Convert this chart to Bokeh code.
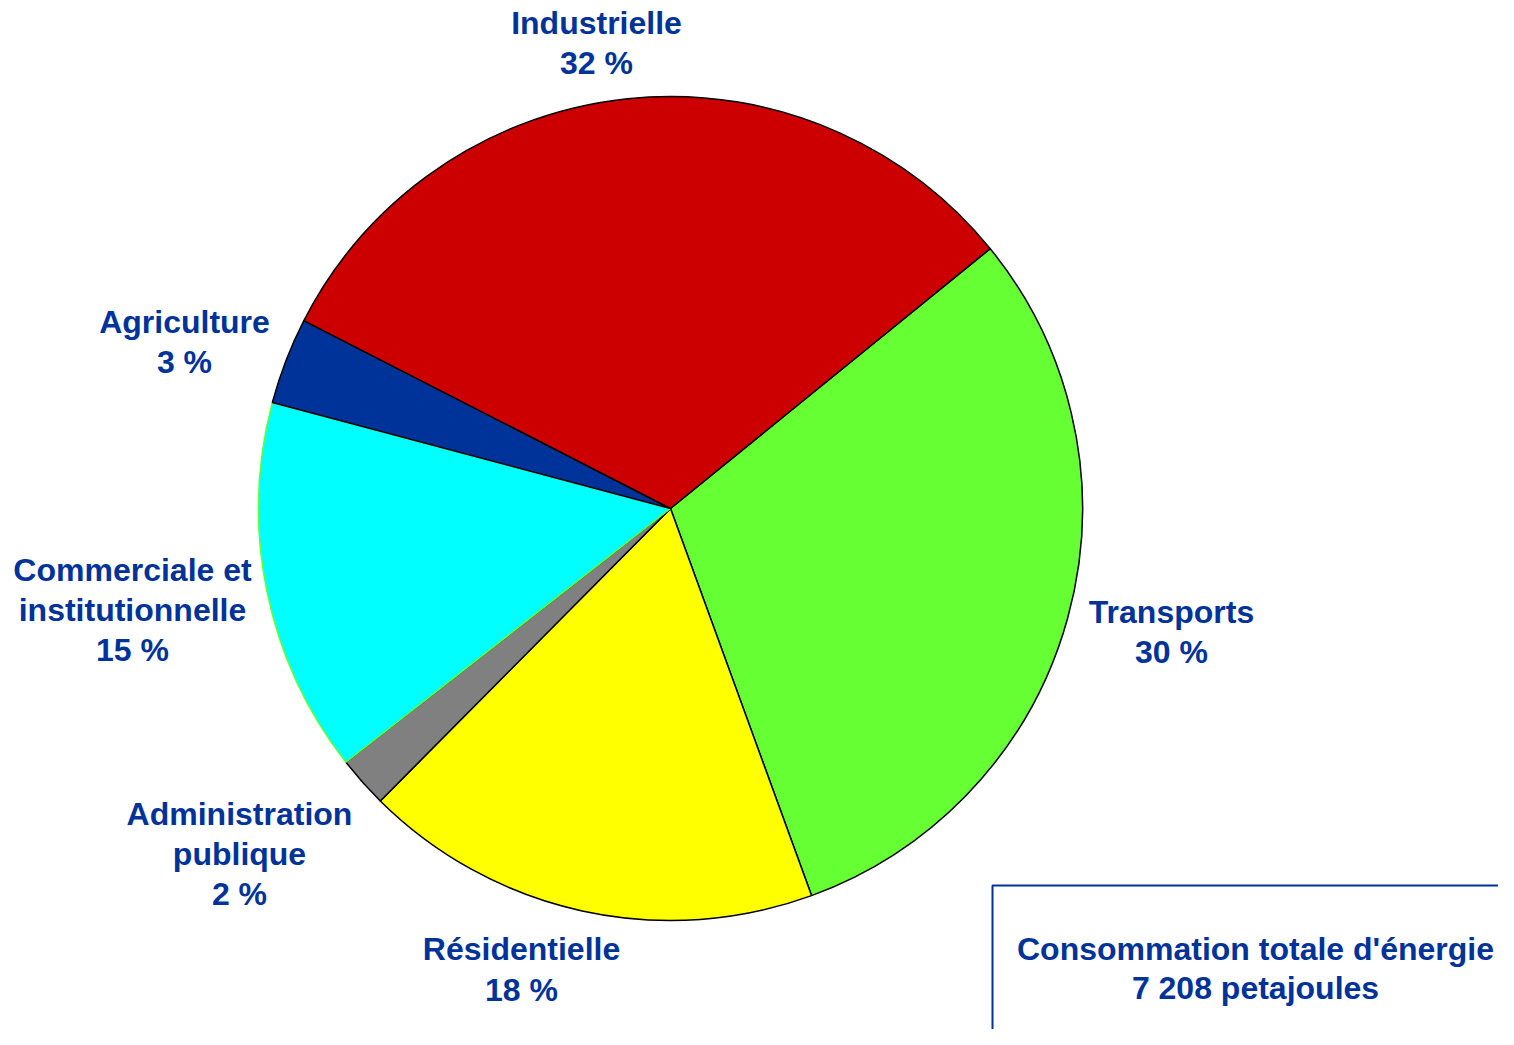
import math
from bokeh.plotting import figure
from bokeh.models import Range1d, ColumnDataSource
from bokeh.core.properties import value
from bokeh.embed import file_html
from bokeh.resources import INLINE

# Data (clockwise from the Transports slice)
sectors = ["Transports", "Résidentielle", "Administration publique",
           "Commerciale et institutionnelle", "Agriculture", "Industrielle"]
shares = [30.3, 18.0, 2.0, 14.7, 3.4, 31.6]
pct_labels = ["30 %", "18 %", "2 %", "15 %", "3 %", "32 %"]
colors = ["#66FF33", "#FFFF00", "#808080", "#00FFFF", "#003399", "#CC0000"]
outline = ["black", "black", "black", "#66FF33", "black", "black"]
total_title = "Consommation totale d'énergie"
total_value = "7 208 petajoules"

TEXT = "#003399"
FONT = "Liberation Sans"

W, H = 1498, 1029
p = figure(width=W, height=H, output_backend="svg", toolbar_location=None,
           x_range=Range1d(0, W), y_range=Range1d(-H, 0),
           min_border=0, outline_line_color=None)
p.axis.visible = False
p.grid.visible = False

cx, cy, r = 670, -508, 412
start0 = math.radians(39.1)
tot = sum(shares)
starts, ends = [], []
a = start0
for s in shares:
    span = 2 * math.pi * s / tot
    ends.append(a)
    starts.append(a - span)
    a -= span

src = ColumnDataSource(dict(start=starts, end=ends, color=colors, lc=outline))
p.wedge(x=cx, y=cy, radius=r, start_angle="start", end_angle="end",
        fill_color="color", line_color="lc", line_width=1.5, source=src)

# label positions (reference pixel coords of each line's center)
label_lines = [
    (["Transports", pct_labels[0]], 1171, [611, 651]),
    (["Résidentielle", pct_labels[1]], 521, [948, 989]),
    (["Administration", "publique", pct_labels[2]], 239, [813, 853, 893]),
    (["Commerciale et", "institutionnelle", pct_labels[3]], 132, [569, 609, 649]),
    (["Agriculture", pct_labels[4]], 184, [321, 361]),
    (["Industrielle", pct_labels[5]], 596, [22, 62]),
    ([total_title, total_value], 1255, [948, 987]),
]
xs, ys, ts = [], [], []
for lines, x, yl in label_lines:
    for t, y in zip(lines, yl):
        xs.append(x); ys.append(-y); ts.append(t)
p.text(x=xs, y=ys, text=ts, text_font=value(FONT), text_font_style="bold",
       text_font_size="32px", text_color=TEXT, text_align="center",
       text_baseline="middle")

# box around the total
p.line(x=[992, 992, 1520], y=[-1045, -885, -885], line_color=TEXT, line_width=2)

open("out.html", "w").write(file_html(p, INLINE))
